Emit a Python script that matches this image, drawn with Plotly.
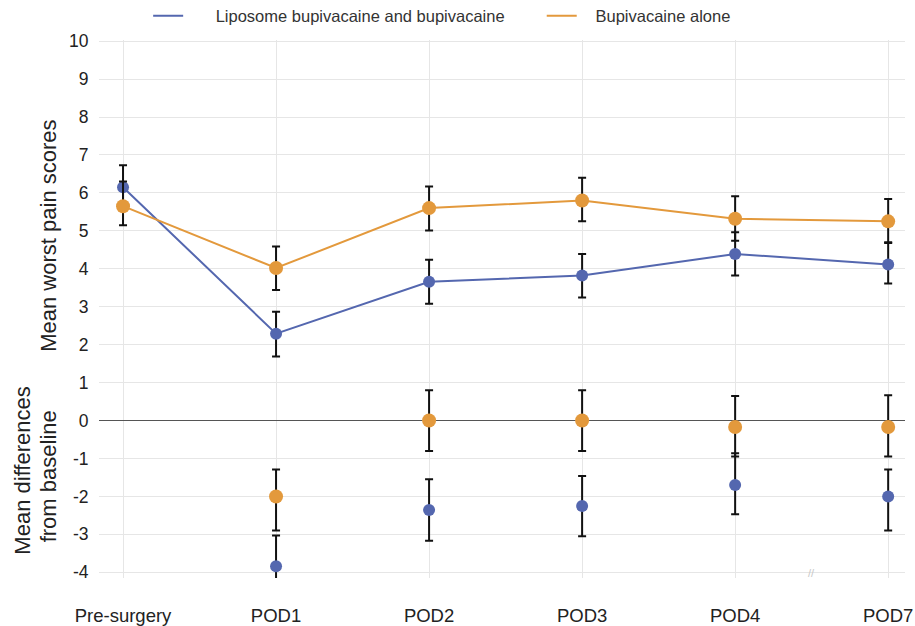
import plotly.graph_objects as go

categories = ["Pre-surgery", "POD1", "POD2", "POD3", "POD4", "POD7"]

# Upper panel: mean worst pain scores
lipo_mean = [6.15, 2.29, 3.66, 3.82, 4.39, 4.11]
lipo_hi = [6.73, 2.87, 4.24, 4.39, 4.96, 4.68]
lipo_lo = [5.58, 1.69, 3.08, 3.24, 3.82, 3.61]
bupi_mean = [5.65, 4.02, 5.60, 5.80, 5.32, 5.25]
bupi_hi = [6.30, 4.59, 6.17, 6.40, 5.91, 5.84]
bupi_lo = [5.15, 3.44, 5.01, 5.25, 4.74, 4.70]

# Lower panel: mean differences from baseline
diff_cats = ["POD1", "POD2", "POD3", "POD4", "POD7"]
lipo_diff = [-3.84, -2.36, -2.25, -1.70, -2.00]
lipo_diff_hi = [-3.03, -1.55, -1.46, -0.86, -1.29]
lipo_diff_lo = [-4.65, -3.17, -3.05, -2.47, -2.90]
bupi_diff = [-2.00, 0.00, 0.00, -0.17, -0.17]
bupi_diff_hi = [-1.29, 0.80, 0.80, 0.65, 0.67]
bupi_diff_lo = [-2.90, -0.80, -0.80, -0.95, -0.95]

yticks = list(range(-4, 11))

BLUE = "#5467AF"
ORANGE = "#E3993C"
NB = "\u00a0"

W, H = 915, 626

def err(mean, hi, lo):
    return dict(type="data", symmetric=False,
                array=[h - m for h, m in zip(hi, mean)],
                arrayminus=[m - l for m, l in zip(mean, lo)],
                color="#111111", thickness=2, width=4)

xi = list(range(len(categories)))
xd = [categories.index(c) for c in diff_cats]

fig = go.Figure()
fig.add_trace(go.Scatter(x=xi, y=lipo_mean, mode="lines+markers",
                         line=dict(color=BLUE, width=2),
                         marker=dict(color=BLUE, size=12),
                         error_y=err(lipo_mean, lipo_hi, lipo_lo),
                         showlegend=False))
fig.add_trace(go.Scatter(x=xi, y=bupi_mean, mode="lines+markers",
                         line=dict(color=ORANGE, width=2),
                         marker=dict(color=ORANGE, size=14),
                         error_y=err(bupi_mean, bupi_hi, bupi_lo),
                         showlegend=False))
fig.add_trace(go.Scatter(x=xd, y=lipo_diff, mode="markers",
                         marker=dict(color=BLUE, size=12),
                         error_y=err(lipo_diff, lipo_diff_hi, lipo_diff_lo),
                         cliponaxis=False, showlegend=False))
fig.add_trace(go.Scatter(x=xd, y=bupi_diff, mode="markers",
                         marker=dict(color=ORANGE, size=14),
                         error_y=err(bupi_diff, bupi_diff_hi, bupi_diff_lo),
                         cliponaxis=False, showlegend=False))
# legend entries (lines only)
fig.add_trace(go.Scatter(x=[None], y=[None], mode="lines",
                         line=dict(color=BLUE, width=2),
                         name=NB * 6 + "Liposome bupivacaine and bupivacaine" + NB * 7))
fig.add_trace(go.Scatter(x=[None], y=[None], mode="lines",
                         line=dict(color=ORANGE, width=2),
                         name=NB * 3 + "Bupivacaine alone"))

title_font = dict(size=22, color="#222222")
fig.add_annotation(x=0, xref="paper", xshift=-50, xanchor="center", yanchor="middle",
                   y=4.87, yref="y",
                   text="Mean worst pain scores", textangle=-90, showarrow=False,
                   font=title_font)
fig.add_annotation(x=0, xref="paper", xshift=-76, xanchor="center", yanchor="middle",
                   y=-1.32, yref="y",
                   text="Mean differences", textangle=-90, showarrow=False,
                   font=title_font)
fig.add_annotation(x=0, xref="paper", xshift=-51, xanchor="center", yanchor="middle",
                   y=-1.47, yref="y",
                   text="from baseline", textangle=-90, showarrow=False,
                   font=title_font)
fig.add_annotation(x=4.50, y=-4.03, xref="x", yref="y", text="//", showarrow=False,
                   font=dict(size=11, color="#c8c8c8"))

fig.update_layout(
    width=W, height=H,
    margin=dict(l=99, r=10, t=40, b=48),
    plot_bgcolor="white", paper_bgcolor="white",
    font=dict(family="Liberation Sans, Arial, sans-serif", size=18, color="#222222"),
    legend=dict(orientation="h", x=0.061, xanchor="left",
                y=1 - 16 / H, yanchor="middle", yref="container",
                font=dict(size=16.5, color="#333333")),
    xaxis=dict(range=[-0.157, 5.11], tickmode="array", tickvals=xi, ticktext=categories,
               showgrid=True, gridcolor="#e6e6e6", gridwidth=1, zeroline=False,
               ticks="outside", ticklen=21, tickcolor="rgba(0,0,0,0)",
               tickfont=dict(size=18.5),
               showline=False, automargin=False),
    yaxis=dict(range=[-4.15, 10.03], tickmode="array", tickvals=yticks,
               ticktext=[str(v) for v in yticks],
               showgrid=True, gridcolor="#e6e6e6", gridwidth=1,
               zeroline=True, zerolinecolor="#555555", zerolinewidth=1,
               tickfont=dict(size=17.5),
               showline=False, ticks="outside", ticklen=6, tickcolor="rgba(0,0,0,0)",
               automargin=False),
)

fig.write_html("out.html",
               config={"displayModeBar": False},
               post_script="document.body.style.margin='0px';"
                           "document.body.style.overflow='hidden';")
